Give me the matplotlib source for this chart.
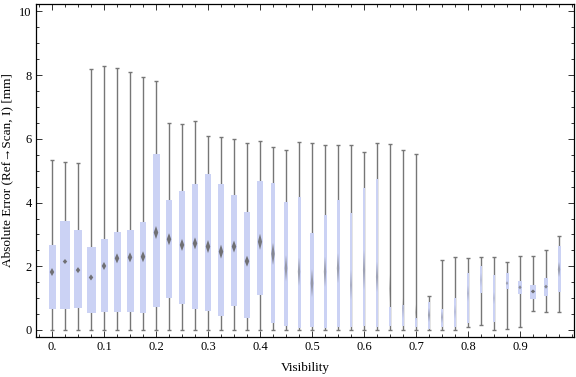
import matplotlib
matplotlib.use("Agg")
import matplotlib.pyplot as plt
from matplotlib.ticker import MultipleLocator, FixedLocator, FixedFormatter
import numpy as np

# --- Data ---
visibility = [i * 0.025 for i in range(40)]
whisk_lo = [0, 0, 0, 0, 0, 0, 0, 0, 0, 0,
            0, 0, 0, 0, 0, 0, 0, 0, 0, 0,
            0, 0, 0, 0, 0, 0, 0, 0, 0, 0,
            0, 0, 0.08, 0.17, 0, 0.02, 0.08, 0.61, 0.56, 0.58]
q1 = [0.67, 0.67, 0.68, 0.52, 0.58, 0.56, 0.58, 0.54, 0.71, 1.02,
      0.83, 0.67, 0.61, 0.44, 0.76, 0.39, 1.11, 0.23, 0.14, 0.07,
      0.08, 0.07, 0.10, 0.10, 0.13, 0.10, 0.14, 0.14, 0.10, 0.02,
      0.10, 0.10, 0.21, 1.17, 0.26, 1.30, 1.12, 0.98, 1.08, 1.19]
median = [1.82, 2.15, 1.88, 1.65, 2.01, 2.25, 2.28, 2.30, 3.06, 2.85,
          2.67, 2.72, 2.62, 2.46, 2.62, 2.16, 2.77, 2.39, 1.94, 1.83,
          1.47, 1.83, 1.94, 1.41, 1.88, 1.67, 1.30, 0.68, 0.55, 0.47,
          0.40, 0.57, 1.15, 1.57, 1.00, 1.47, 1.34, 1.21, 1.36, 1.90]
q3 = [2.67, 3.42, 3.14, 2.60, 2.86, 3.08, 3.14, 3.38, 5.52, 4.07,
      4.35, 4.57, 4.90, 4.58, 4.23, 3.69, 4.68, 4.61, 4.02, 4.17,
      3.04, 3.61, 4.08, 3.66, 4.45, 4.74, 0.72, 0.78, 0.39, 0.89,
      0.66, 1.01, 1.78, 2.02, 1.73, 1.78, 1.54, 1.41, 1.63, 2.64]
whisk_hi = [5.34, 5.27, 5.23, 8.18, 8.29, 8.22, 8.09, 7.93, 7.83, 6.49,
            6.46, 6.57, 6.10, 6.07, 6.01, 5.86, 5.94, 5.74, 5.64, 5.89,
            5.86, 5.80, 5.80, 5.80, 5.60, 5.86, 5.83, 5.65, 5.52, 1.07,
            2.19, 2.30, 2.27, 2.30, 2.30, 2.12, 2.31, 2.31, 2.50, 2.95]
# box widths (data units along x) and median-diamond heights (mm)
box_w = np.array([7, 10.7, 8.7, 9, 7, 7, 7, 6, 7, 6.3,
                  6, 6, 6, 6.3, 5.7, 6, 5.3, 4.3, 3.3, 3,
                  3.3, 3, 3, 2.3, 2.7, 2.7, 2.3, 2, 2.3, 2.7,
                  2.3, 1.7, 2, 1.7, 1.7, 3, 4, 6, 4.5, 3]) / 520.0
notch_h = np.array([8, 5, 6, 6, 8, 10, 10, 11, 13, 12,
                    12, 12, 13, 14, 12, 11, 16, 22, 26, 28,
                    28, 30, 30, 30, 40, 30, 28, 20, 16, 14,
                    12, 14, 16, 14, 12, 4, 4, 4, 4, 15]) / 31.85

# --- Figure ---
plt.rcParams["font.family"] = ["Liberation Serif", "DejaVu Serif"]
fig = plt.figure(figsize=(5.76, 3.77), dpi=100)
ax = fig.add_axes([36 / 576, 40 / 377, 538 / 576, 333 / 377])

box_color = "#cbd2f4"
whisk_color = "#767676"
diamond_color = "#666666"
cap_w = 3.5 / 520
full_dw = 4.5 / 520

for x, lo, a, m, b, hi, w, h in zip(visibility, whisk_lo, q1, median, q3,
                                    whisk_hi, box_w, notch_h):
    ax.vlines(x, lo, hi, color=whisk_color, lw=1.0, zorder=1)
    ax.hlines([lo, hi], x - cap_w / 2, x + cap_w / 2, color=whisk_color,
              lw=1.0, zorder=1)
    ax.bar(x, b - a, bottom=a, width=w, color=box_color, lw=0, zorder=2)
    dw = min(w * 0.8, full_dw)
    alpha = 0.9 * min(1.0, dw / full_dw)
    ax.fill([x - dw / 2, x, x + dw / 2, x], [m, m + h / 2, m, m - h / 2],
            color=diamond_color, lw=0, alpha=alpha, zorder=3)

ax.set_xlim(-16 / 520, 522 / 520)
ax.set_ylim(-7 / 31.85, 326 / 31.85)

ax.xaxis.set_major_locator(FixedLocator([0.1 * k for k in range(10)]))
ax.xaxis.set_major_formatter(FixedFormatter(["0."] + ["0.%d" % k for k in range(1, 10)]))
ax.xaxis.set_minor_locator(MultipleLocator(0.025))
ax.yaxis.set_major_locator(MultipleLocator(2))
ax.yaxis.set_minor_locator(MultipleLocator(0.5))

ax.tick_params(which="both", direction="in", top=True, right=True,
               labelsize=9, width=0.7, colors="#333333", labelcolor="black")
ax.tick_params(which="major", length=4, pad=3)
ax.tick_params(which="minor", length=2)
for s in ax.spines.values():
    s.set_linewidth(0.9)
    s.set_color("black")

ax.set_xlabel("Visibility", fontsize=9.5, labelpad=6)
ax.set_ylabel("Absolute Error (Ref\u2192Scan, I) [mm]", fontsize=9.5, labelpad=4)

fig.savefig("out.png", dpi=100)
